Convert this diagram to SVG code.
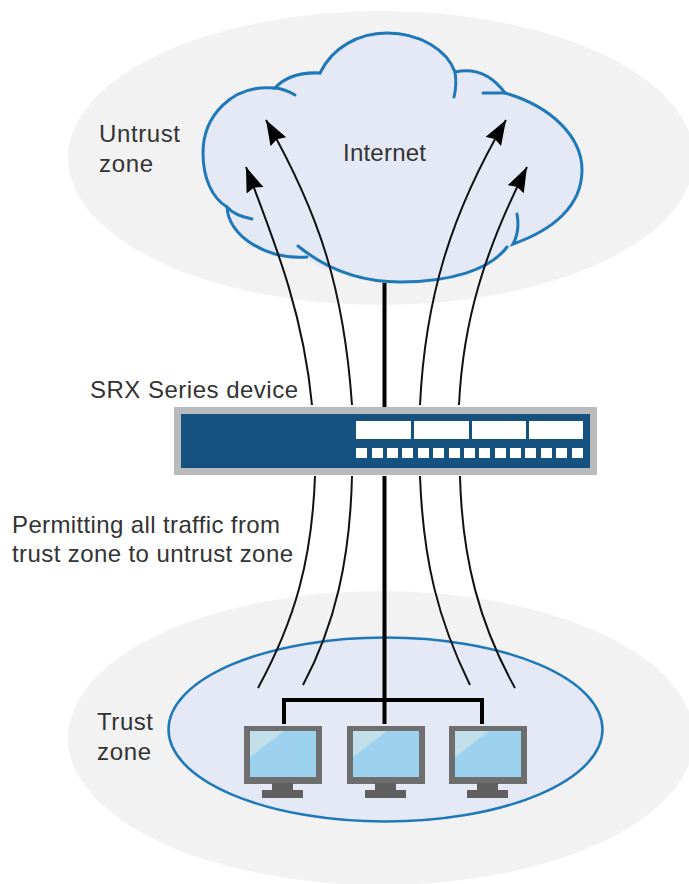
<svg xmlns="http://www.w3.org/2000/svg" width="689" height="884" viewBox="0 0 689 884">
<style>
text{font-family:"Liberation Sans",Arial,sans-serif;font-size:24px;fill:#333}
.zone{fill:#f2f2f2}
.c{fill:#e5e9f5;stroke:none}
.h{fill:none;stroke:#1f78b8;stroke-width:3;stroke-linecap:round}
.a{fill:none;stroke:#111;stroke-width:2}
.t{fill:none;stroke:#000;stroke-width:4}
.p{fill:#fff}
</style>
<defs>
<marker id="ah" markerUnits="userSpaceOnUse" markerWidth="28" markerHeight="24" refX="25" refY="9" orient="auto"><path d="M0 0L25 9L0 18L3 9Z" fill="#000"/></marker>
<g id="mon">
<rect x="0" y="0" width="78" height="58" fill="#6e6e6e"/>
<rect x="6" y="5" width="66" height="46" fill="#9dd2ee"/>
<path d="M6 5H40L6 31Z" fill="#c3dfe9"/>
<path d="M28 57H49V64H59V72H18V64H28Z" fill="#5f5f5f"/>
</g>
</defs>
<g id="untrust-zone">
<ellipse class="zone" cx="381" cy="158" rx="313" ry="147"/>
<text x="99" y="142" textLength="81">Untrust</text><text x="99" y="172" textLength="54">zone</text>
</g>
<g id="trust-zone">
<ellipse class="zone" cx="381" cy="738" rx="313" ry="147"/>
<ellipse cx="385.500" cy="729.500" rx="217" ry="92" fill="#e5e9f5" stroke="#1f78b8" stroke-width="2.500"/>
<text x="97" y="730" textLength="56">Trust</text><text x="97" y="760" textLength="54">zone</text>
</g>
<g id="internet">
<path class="c" d="M320 73C332 48 358 33 386 33C420 33 450 50 455 72C478 68 494 78 505 92C550 106 582 136 582 170C582 206 553 230 513 244C497 268 450 282 400 282C365 282 335 275 305 258C265 258 230 238 227 207C212 198 203 178 203 153C203 116 232 84 275 88C285 78 300 73 320 73Z"/>
<path class="h" d="M320 73C332 48 358 33 387 33C420 33 447 50 455 72Q457 85 454 97"/>
<path class="h" d="M320 73C300 72 285 77 275 88C285 89 290 92 295 95"/>
<path class="h" d="M275 88C232 84 203 116 203 153C203 178 212 198 227 207C233 214 242 217 252 219"/>
<path class="h" d="M227 207C228 235 265 260 307 257"/>
<path class="h" d="M298 246C325 268 360 282 400 282C450 282 490 270 507 247"/>
<path class="h" d="M517 214C519 225 518 235 513 244C553 230 582 206 582 170C582 136 550 106 505 93C497 93 490 93 483 93"/>
<path class="h" d="M455 72C478 67 494 78 505 93"/>
<text x="343" y="161" textLength="83">Internet</text>
</g>
<g id="connectors">
<path class="a" marker-end="url(#ah)" d="M312 405C304 320 280 255 246 167"/>
<path class="a" marker-end="url(#ah)" d="M352 405C344 290 320 215 266 120"/>
<path class="a" marker-end="url(#ah)" d="M420 405C425 300 450 215 506 120"/>
<path class="a" marker-end="url(#ah)" d="M459 405C463 320 485 250 527 167"/>
<path class="a" d="M315 476C312 560 295 620 258 688M352 476C350 560 335 625 303 685M420 476C423 560 438 620 470 685M460 476C462 560 480 625 515 688"/>
<path class="t" d="M384.500 283V407M384.500 476V724M284 724V700H482V724"/>
</g>
<g id="srx-device">
<text x="90" y="398" textLength="208">SRX Series device</text>
<rect x="174" y="407" width="423" height="68" fill="#b9babc"/>
<rect x="181" y="414" width="409" height="54" fill="#15527f"/>
<rect class="p" x="356" y="421" width="55" height="18"/><rect class="p" x="414" y="421" width="55" height="18"/><rect class="p" x="472" y="421" width="54" height="18"/><rect class="p" x="529" y="421" width="54" height="18"/>
<rect class="p" x="356" y="448" width="11" height="10"/><rect class="p" x="372" y="448" width="11" height="10"/><rect class="p" x="387" y="448" width="11" height="10"/><rect class="p" x="402" y="448" width="11" height="10"/><rect class="p" x="418" y="448" width="11" height="10"/><rect class="p" x="433" y="448" width="11" height="10"/><rect class="p" x="449" y="448" width="11" height="10"/><rect class="p" x="464" y="448" width="11" height="10"/><rect class="p" x="479" y="448" width="11" height="10"/><rect class="p" x="495" y="448" width="11" height="10"/><rect class="p" x="510" y="448" width="11" height="10"/><rect class="p" x="525" y="448" width="11" height="10"/><rect class="p" x="541" y="448" width="11" height="10"/><rect class="p" x="556" y="448" width="11" height="10"/><rect class="p" x="572" y="448" width="11" height="10"/>
</g>
<g id="policy-label"><text x="12" y="533" textLength="268">Permitting all traffic from</text><text x="12" y="562" textLength="281">trust zone to untrust zone</text></g>
<use id="host-1" href="#mon" x="244" y="726"/>
<use id="host-2" href="#mon" x="347" y="726"/>
<use id="host-3" href="#mon" x="449" y="726"/>
</svg>
